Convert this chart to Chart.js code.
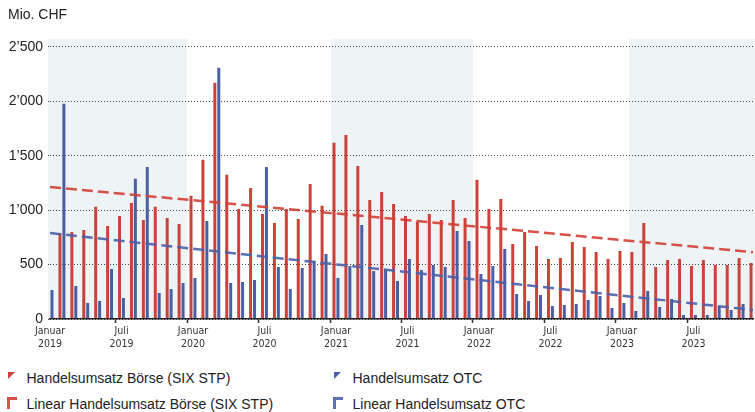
<!DOCTYPE html>
<html>
  <head>
    <meta charset="utf-8">
    <script src="https://cdn.jsdelivr.net/npm/chart.js"></script>
    <style>
      body { margin: 0; background: #fff; }
      #wrap { position: relative; width: 755px; height: 365px; }
      #legend {
        display: grid;
        grid-template-columns: 326px auto;
        padding-left: 8px;
        font: 14px 'Liberation Sans', Arial, sans-serif;
        color: #222;
      }
      #legend .item { position: relative; height: 26px; line-height: 26px; padding-left: 18.5px; white-space: nowrap; }
      #legend .tri {
        position: absolute; left: 0; top: 7px; width: 0; height: 0;
        border-top: 7px solid; border-right: 7px solid transparent;
      }
      #legend .corner {
        position: absolute; left: -1.3px; top: 6px; width: 7px; height: 9px;
        border-top: 3px solid; border-left: 3px solid;
      }
    </style>
  </head>

  <body>
    <div id="wrap"><canvas id="canvas"></canvas></div>
    <div id="legend"></div>
    <script>
      const FONT = "'Liberation Sans', Arial, Helvetica, sans-serif";
      const NARROW = "'Liberation Sans Narrow', 'Arial Narrow', 'DejaVu Sans Condensed', 'Liberation Sans', sans-serif";

      const monthNames = ['Januar', 'Februar', 'März', 'April', 'Mai', 'Juni', 'Juli', 'August', 'September', 'Oktober', 'November', 'Dezember'];
      const years = ['2019', '2020', '2021', '2022', '2023'];

      // Mio. CHF per month, Jan 2019 .. Dez 2023
      const boerse = [
        772, 790, 800, 818, 1030, 855, 947, 1066, 910, 1030, 928, 873,
        1131, 1462, 2169, 1324, 1011, 1204, 965, 882, 1011, 919, 1241, 1039,
        1618, 1691, 1406, 1094, 1167, 1057, 947, 892, 965, 910, 1094, 928,
        1278, 1011, 1103, 689, 800, 671, 552, 561, 708, 662, 616, 552,
        625, 616, 882, 478, 542, 552, 487, 542, 496, 496, 561, 515
      ];
      const otc = [
        267, 1976, 303, 147, 165, 460, 193, 1287, 1397, 239, 276, 331,
        377, 901, 2307, 331, 340, 358, 1397, 478, 276, 469, 533, 597,
        377, 487, 864, 441, 450, 349, 552, 450, 496, 478, 809, 717,
        414, 487, 643, 230, 165, 221, 119, 129, 138, 175, 211, 101,
        147, 74, 257, 110, 184, 37, 37, 37, 119, 83, 138, 120
      ];

      // linear trend, start and end values
      const trendBoerse = [1212, 614];
      const trendOtc = [789, 83];

      const yTicks = [0, 500, 1000, 1500, 2000, 2500];
      const shadedPeriods = [
        ['Januar 2019', 'Dezember 2019'],
        ['Januar 2021', 'Dezember 2021'],
        ['Februar 2023', 'Dezember 2023']
      ];

      const labels = [];
      years.forEach((y) => monthNames.forEach((m) => labels.push(m + ' ' + y)));
      const first = labels[0];
      const last = labels[labels.length - 1];

      const swiss = (v) => (v >= 1000 ? Math.floor(v / 1000) + '\u2019' + String(v % 1000).padStart(3, '0') : String(v));

      const shading = {
        id: 'shading',
        beforeDraw(chart) {
          const { ctx, chartArea, scales } = chart;
          const x = scales.x;
          const step = x.getPixelForValue(1) - x.getPixelForValue(0);
          ctx.save();
          ctx.fillStyle = '#eef3f6';
          shadedPeriods.forEach(([a, b]) => {
            const x0 = Math.max(chartArea.left - 2, x.getPixelForValue(labels.indexOf(a)) - step * 0.4);
            const x1 = Math.min(chart.width, x.getPixelForValue(labels.indexOf(b)) + step * 0.5);
            ctx.fillRect(x0, chartArea.top - 8, x1 - x0, chartArea.bottom - chartArea.top + 8);
          });
          ctx.restore();
        }
      };

      const htmlLegend = {
        id: 'htmlLegend',
        afterUpdate(chart) {
          const box = document.getElementById('legend');
          box.innerHTML = '';
          chart.data.datasets.forEach((ds) => {
            const item = document.createElement('div');
            item.className = 'item';
            const icon = document.createElement('span');
            const isLine = ds.type === 'line';
            icon.className = isLine ? 'corner' : 'tri';
            icon.style.color = isLine ? ds.borderColor : ds.backgroundColor;
            item.appendChild(icon);
            item.appendChild(document.createTextNode(ds.label));
            box.appendChild(item);
          });
        }
      };

      new Chart(document.getElementById('canvas'), {
        type: 'bar',
        data: {
          labels: labels,
          datasets: [
            {
              label: 'Handelsumsatz Börse (SIX STP)',
              data: boerse,
              backgroundColor: '#cc4238',
              categoryPercentage: 0.66,
              barPercentage: 0.76,
              order: 0,
            },
            {
              label: 'Handelsumsatz OTC',
              data: otc,
              backgroundColor: '#4a5ea6',
              categoryPercentage: 0.66,
              barPercentage: 0.76,
              order: 0,
            },
            {
              type: 'line',
              label: 'Linear Handelsumsatz Börse (SIX STP)',
              data: [{ x: first, y: trendBoerse[0] }, { x: last, y: trendBoerse[1] }],
              borderColor: 'rgba(210,64,54,0.9)',
              borderWidth: 2.5,
              borderDash: [11, 5],
              pointRadius: 0,
              order: -1,
            },
            {
              type: 'line',
              label: 'Linear Handelsumsatz OTC',
              data: [{ x: first, y: trendOtc[0] }, { x: last, y: trendOtc[1] }],
              borderColor: 'rgba(74,96,170,0.9)',
              borderWidth: 2.5,
              borderDash: [11, 5],
              pointRadius: 0,
              order: -1,
            },
          ],
        },
        options: {
          responsive: true,
          maintainAspectRatio: false,
          animation: false,
          layout: { padding: { left: 8, right: 0, top: 0, bottom: 0 } },
          plugins: {
            legend: { display: false },
            title: {
              display: true,
              text: 'Mio. CHF',
              align: 'start',
              color: '#222',
              font: { family: FONT, size: 14, weight: 'normal' },
              padding: { top: 7, bottom: 23 },
            },
          },
          scales: {
            x: {
              offset: false,
              afterFit: (s) => { s.height = 46; },
              grid: {
                drawOnChartArea: false,
                drawTicks: true,
                tickLength: 4,
                tickWidth: 1.5,
                tickColor: (c) => (c.index % 6 === 0 ? '#333' : 'rgba(0,0,0,0)'),
              },
              border: { display: true, color: '#222', width: 1.5, z: 1 },
              ticks: {
                autoSkip: false,
                maxRotation: 0,
                minRotation: 0,
                padding: 2,
                color: '#333',
                font: { family: NARROW, size: 10.5, lineHeight: 1.25 },
                callback: function (value) {
                  const parts = this.getLabelForValue(value).split(' ');
                  return parts[0] === 'Januar' || parts[0] === 'Juli' ? parts : '';
                },
              },
            },
            y: {
              min: yTicks[0],
              max: yTicks[yTicks.length - 1],
              afterFit: (s) => { s.width = 42; },
              grid: {
                color: '#444',
                lineWidth: 1,
                drawTicks: true,
                tickLength: 2,
                tickColor: '#444',
                tickBorderDash: [1, 2],
              },
              border: { display: false, dash: [1, 2] },
              ticks: {
                stepSize: 500,
                padding: 5,
                color: '#222',
                font: { family: FONT, size: 14 },
                callback: (v) => swiss(v),
              },
            },
          },
        },
        plugins: [shading, htmlLegend],
      });
    </script>
  </body>
</html>
